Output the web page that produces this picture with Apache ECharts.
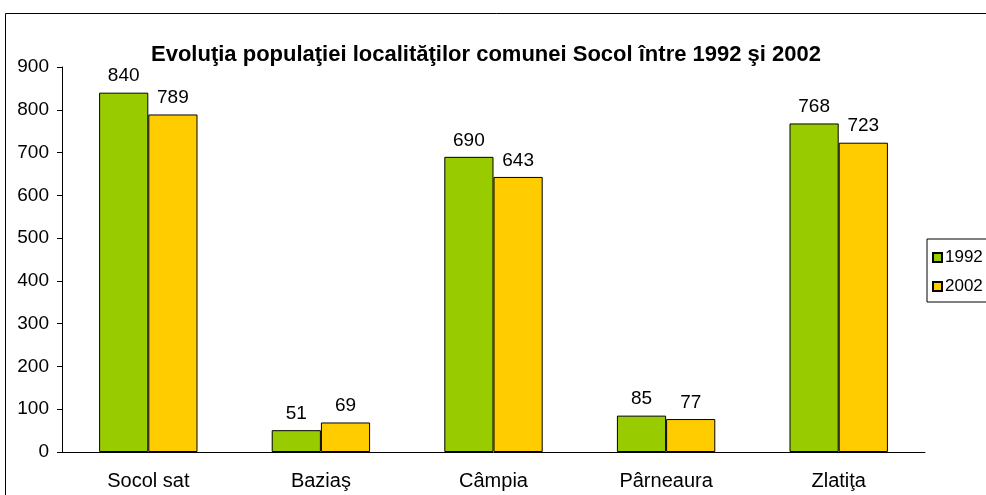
<!DOCTYPE html>
<html>
<head>
<meta charset="utf-8">
<script src="https://cdn.jsdelivr.net/npm/echarts@6/dist/echarts.min.js"></script>
<style>
  html, body { margin: 0; padding: 0; background: #fff; }
  #chart { width: 986px; height: 495px; }
</style>
</head>
<body>
<div id="chart"></div>
<script>
const categories = ['Socol sat', 'Baziaş', 'Câmpia', 'Pârneaura', 'Zlatiţa']
const values1992 = [840, 51, 690, 85, 768]
const values2002 = [789, 69, 643, 77, 723]
const yTicks = { min: 0, max: 900, interval: 100 }

const chart = echarts.init(document.getElementById('chart'))

const fontFamily = 'Arial, "Liberation Sans", sans-serif'

const barLabel = {
  show: true,
  position: 'top',
  distance: 7,
  color: '#000',
  fontFamily,
  fontSize: 19,
}

chart.setOption({
  animation: false,
  backgroundColor: '#fff',
  title: {
    text: 'Evoluţia populaţiei localităţilor comunei Socol între 1992 şi 2002',
    left: 481,
    textAlign: 'center',
    top: 39,
    textStyle: {
      fontFamily,
      fontSize: 22,
      fontWeight: 'bold',
      color: '#000',
    },
  },
  graphic: [{
    type: 'rect',
    shape: { x: 5.5, y: 13.5, width: 1000, height: 500 },
    style: { fill: 'none', stroke: '#000', lineWidth: 1 },
    silent: true,
  }],
  legend: {
    orient: 'vertical',
    left: 927,
    top: 239,
    padding: [10, 30, 7, 5],
    itemGap: 12,
    itemWidth: 9,
    itemHeight: 9,
    icon: 'rect',
    borderColor: '#000',
    borderWidth: 1,
    textStyle: {
      fontFamily,
      fontSize: 17,
      color: '#000',
      padding: [0, 0, 0, -2],
    },
    data: ['1992', '2002'],
  },
  grid: { left: 62, right: 61, top: 67, bottom: 43 },
  xAxis: {
    type: 'category',
    data: categories,
    axisLine: { lineStyle: { color: '#000', width: 1 } },
    axisTick: { length: 6, lineStyle: { color: '#000' } },
    axisLabel: {
      color: '#000',
      fontFamily,
      fontSize: 20,
      margin: 19,
    },
  },
  yAxis: {
    type: 'value',
    min: yTicks.min,
    max: yTicks.max,
    interval: yTicks.interval,
    axisLine: { show: true, lineStyle: { color: '#000', width: 1 } },
    axisTick: { show: true, length: 5, lineStyle: { color: '#000' } },
    splitLine: { show: false },
    axisLabel: {
      color: '#000',
      fontFamily,
      fontSize: 19,
      margin: 13,
    },
  },
  series: [
    {
      name: '1992',
      type: 'bar',
      data: values1992,
      barGap: '0%',
      barCategoryGap: '43%',
      itemStyle: { color: '#99CC00', borderColor: '#000', borderWidth: 1 },
      label: barLabel,
    },
    {
      name: '2002',
      type: 'bar',
      data: values2002,
      itemStyle: { color: '#FFCC00', borderColor: '#000', borderWidth: 1 },
      label: barLabel,
    },
  ],
})
</script>
</body>
</html>
